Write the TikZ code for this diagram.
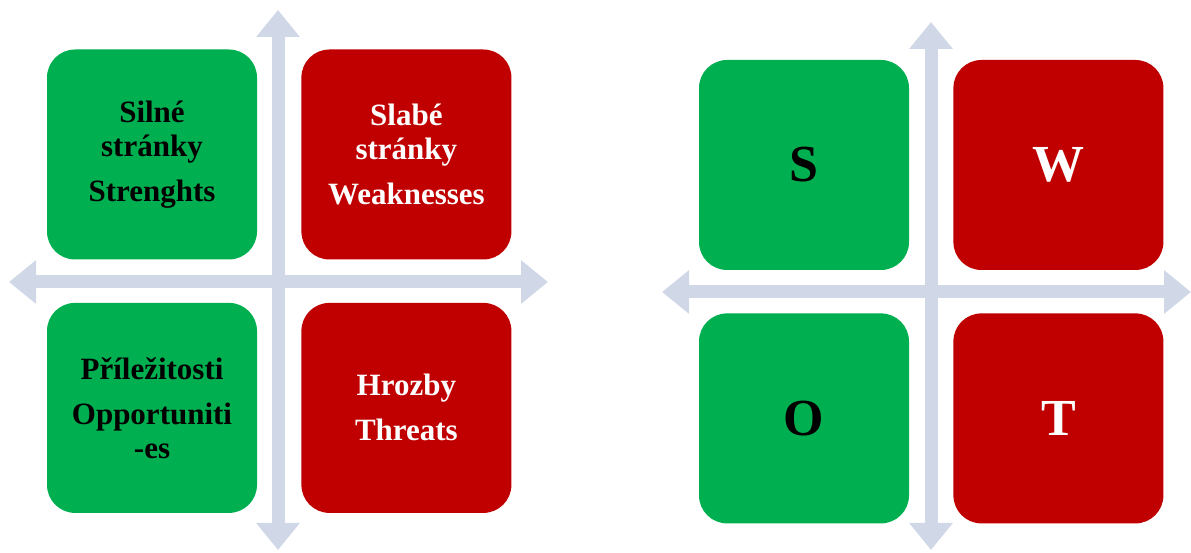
\documentclass[tikz,border=0pt]{standalone}
\usepackage{fontspec}
\setmainfont{Liberation Serif}
\usetikzlibrary{arrows.meta,positioning}
\definecolor{swgreen}{HTML}{00B050}
\definecolor{swred}{HTML}{C00000}
\definecolor{axisgray}{HTML}{D0D8E8}

\begin{document}
\begin{tikzpicture}[
  x=1pt, y=1pt,
  node distance=43pt and 44pt,
  quad/.style={rounded corners=28pt, minimum width=210pt, minimum height=210pt, align=center, inner sep=0pt, font=\bfseries\fontsize{31}{34}\selectfont},
  good/.style={quad, fill=swgreen, text=black},
  bad/.style={quad, fill=swred, text=white},
  big/.style={font=\bfseries\fontsize{52}{60}\selectfont},
  axis/.style={{Triangle[length=27pt,width=42pt]}-{Triangle[length=27pt,width=42pt]}, line width=13pt, draw=axisgray}
]
\useasboundingbox (0,0) rectangle (1191,553);

% left cross: full names
\coordinate (lt) at (278,543);
\coordinate (lb) at (278,3);
\coordinate (ll) at (9,271);
\coordinate (lr) at (548,271);
\draw[axis] (lb) -- (lt);
\draw[axis] (ll) -- (lr);

\node[good] (silne) at (152,398.5) {Silné\\stránky\\[11pt]Strenghts};
\node[bad, right=of silne] (slabe) {Slabé\\stránky\\[11pt]Weaknesses};
\node[good, below=of silne] (prilez) {Příležitosti\\[11pt]Opportuniti\\-es};
\node[bad, below=of slabe] (hrozby) {Hrozby\\[11pt]Threats};

% right cross: letters only
\coordinate (rt) at (931,531);
\coordinate (rb) at (931,3);
\coordinate (rl) at (662,261);
\coordinate (rr) at (1191,261);
\draw[axis] (rb) -- (rt);
\draw[axis] (rl) -- (rr);

\node[good, big] (s) at (804,388) {S};
\node[bad, big, right=of s] (w) {W};
\node[good, big, below=of s] (o) {O};
\node[bad, big, below=of w] (t) {T};
\end{tikzpicture}
\end{document}
